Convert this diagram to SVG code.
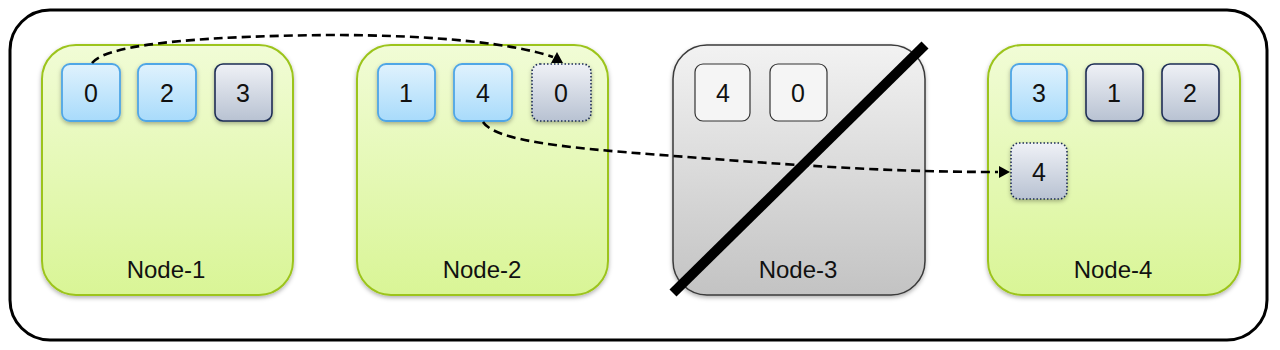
<svg xmlns="http://www.w3.org/2000/svg" width="1280" height="350" viewBox="0 0 1280 350">
<style>
.outer{fill:#fff;stroke:#000;stroke-width:3}
.gnode{fill:url(#gGreen);stroke:#9cc41c;stroke-width:2;filter:url(#sh)}
.xnode{fill:url(#gGray);stroke:#3a3a3a;stroke-width:1.5;filter:url(#sh)}
.bbox{fill:url(#gBlue);stroke:#4fa6e6;stroke-width:1.8;filter:url(#sh)}
.dbox{fill:url(#gNavy);stroke:#1e2d55;stroke-width:1.6;filter:url(#sh)}
.dotbox{fill:url(#gNavy);stroke:#1e2d55;stroke-width:1.6;stroke-dasharray:1.5 2;filter:url(#sh)}
.pbox{fill:#f5f5f5;stroke:#333;stroke-width:1.2}
.num{font-family:"Liberation Sans",Arial,sans-serif;font-size:25px;fill:#111;text-anchor:middle}
.lbl{font-family:"Liberation Sans",Arial,sans-serif;font-size:24px;fill:#111;text-anchor:middle}
.conn{fill:none;stroke:#000;stroke-width:2.6;stroke-dasharray:9 5}
</style>
<defs>
<linearGradient id="gGreen" x1="0" y1="0" x2="0" y2="1"><stop offset="0" stop-color="#f1fcd6"/><stop offset="1" stop-color="#d9f596"/></linearGradient>
<linearGradient id="gGray" x1="0" y1="0" x2="0" y2="1"><stop offset="0" stop-color="#f2f2f2"/><stop offset="1" stop-color="#c3c3c3"/></linearGradient>
<linearGradient id="gBlue" x1="0" y1="0" x2="0" y2="1"><stop offset="0" stop-color="#e0f2fd"/><stop offset="1" stop-color="#a8dbfb"/></linearGradient>
<linearGradient id="gNavy" x1="0" y1="0" x2="0" y2="1"><stop offset="0" stop-color="#eff1f6"/><stop offset="1" stop-color="#b8c2d2"/></linearGradient>
<filter id="sh" x="-20%" y="-20%" width="140%" height="140%"><feDropShadow dx="0" dy="2" stdDeviation="2" flood-color="#000" flood-opacity="0.3"/></filter>
<path id="ah" d="M0,0 L-6,-11 L6,-11 Z" fill="#000"/>
</defs>
<rect class="outer" x="10" y="10" width="1257" height="330" rx="40"/>
<g id="node-1">
<rect class="gnode" x="42" y="45" width="251" height="250" rx="34"/>
<text class="lbl" x="166" y="278">Node-1</text>
<g id="n1-s0"><rect class="bbox" x="62" y="64" width="58" height="57" rx="8"/><text class="num" x="91" y="102">0</text></g>
<g id="n1-s2"><rect class="bbox" x="138" y="64" width="58" height="57" rx="8"/><text class="num" x="167" y="102">2</text></g>
<g id="n1-s3"><rect class="dbox" x="215" y="64" width="57" height="57" rx="8"/><text class="num" x="243" y="102">3</text></g>
</g>
<g id="node-2">
<rect class="gnode" x="357" y="45" width="251" height="250" rx="34"/>
<text class="lbl" x="482" y="278">Node-2</text>
<g id="n2-s1"><rect class="bbox" x="378" y="64" width="57" height="57" rx="8"/><text class="num" x="406" y="102">1</text></g>
<g id="n2-s4"><rect class="bbox" x="454" y="64" width="58" height="57" rx="8"/><text class="num" x="483" y="102">4</text></g>
<g id="n2-s0"><rect class="dotbox" x="532" y="64" width="59" height="57" rx="8"/><text class="num" x="561" y="102">0</text></g>
</g>
<g id="node-3">
<rect class="xnode" x="673" y="45" width="252" height="250" rx="34"/>
<text class="lbl" x="798" y="278">Node-3</text>
<g id="n3-s4"><rect class="pbox" x="695" y="64" width="55" height="57" rx="8"/><text class="num" x="723" y="102">4</text></g>
<g id="n3-s0"><rect class="pbox" x="770" y="64" width="57" height="57" rx="8"/><text class="num" x="798" y="102">0</text></g>
</g>
<g id="node-4">
<rect class="gnode" x="988" y="45" width="252" height="250" rx="34"/>
<text class="lbl" x="1113" y="278">Node-4</text>
<g id="n4-s3"><rect class="bbox" x="1011" y="64" width="56" height="57" rx="8"/><text class="num" x="1039" y="102">3</text></g>
<g id="n4-s1"><rect class="dbox" x="1086" y="64" width="57" height="57" rx="8"/><text class="num" x="1114" y="102">1</text></g>
<g id="n4-s2"><rect class="dbox" x="1162" y="64" width="57" height="57" rx="8"/><text class="num" x="1190" y="102">2</text></g>
<g id="n4-s4"><rect class="dotbox" x="1011" y="143" width="56" height="56" rx="8"/><text class="num" x="1039" y="181">4</text></g>
</g>
<g id="connectors">
<path class="conn" d="M92,63 C108,42 220,36 330,35 C440,35 515,44 553,57"/>
<use href="#ah" transform="translate(557,52) rotate(180)"/>
<path class="conn" d="M483,122 C498,145 600,150 700,158 C820,167 900,172 998,172"/>
<use href="#ah" transform="translate(1010,172) rotate(-90)"/>
</g>
<line id="strike" x1="673" y1="293" x2="925" y2="45" stroke="#000" stroke-width="10"/>
</svg>
